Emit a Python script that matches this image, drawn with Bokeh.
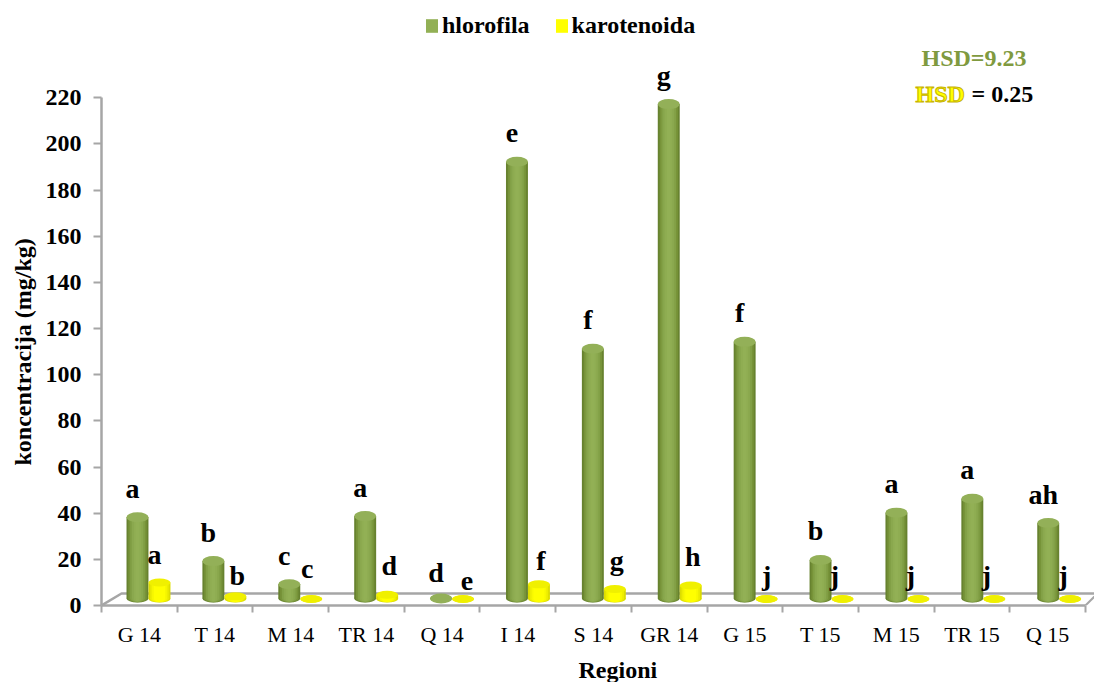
from bokeh.plotting import figure
from bokeh.embed import file_html
from bokeh.resources import INLINE
from bokeh.models import FixedTicker, Range1d, Label, Legend, LegendItem, ColumnDataSource, Title
from bokeh.core.properties import value

categories = ["G 14", "T 14", "M 14", "TR 14", "Q 14", "I 14", "S 14", "GR 14", "G 15", "T 15", "M 15", "TR 15", "Q 15"]
hlorofila = [38, 19, 9, 38.5, 1.5, 192, 111, 217, 114, 19.5, 40, 46, 35.5]
karotenoida = [9.3, 3.3, 2, 4, 1.5, 8.5, 6.5, 8, 2, 0.7, 0.7, 0.7, 0.7]
letters_h = ["a", "b", "c", "a", "d", "e", "f", "g", "f", "b", "a", "a", "ah"]
letters_k = ["a", "b", "c", "d", "e", "f", "g", "h", "j", "j", "j", "j", "j"]
y_ticks = list(range(0, 221, 20))

# label placement relative to the top of each yellow bar, in pixels
gap_k = [24, 17, 27, 25, 15, 20, 24, 25, 20, 23, 23, 23, 23]
shift_k = [-5, 2, -4, 2, 4, 2, 2, 2, 0, -8, -8, -8, -7]

FONT = "Liberation Serif"
DEPTH = 2.4        # floor depth offset of the pseudo-3D chart, in data units
PXY = 2.308        # pixels per data unit
PXX = 75.69
FRAME_H = 605
n = len(categories)

p = figure(width=1094, height=682, frame_width=993, frame_height=FRAME_H,
           output_backend="svg", toolbar_location=None,
           x_range=Range1d(0, 993 / PXX), y_range=Range1d(0, FRAME_H / PXY),
           min_border_left=101, min_border_right=0, min_border_top=0, min_border_bottom=77,
           outline_line_color=None, background_fill_color="white", border_fill_color="white")
p.grid.visible = False

AX = "#a6a6a6"
xa = p.xaxis[0]
xa.ticker = FixedTicker(ticks=[i + 0.5 for i in range(n)], minor_ticks=list(range(n + 1)))
xa.major_label_overrides = {i + 0.5: c for i, c in enumerate(categories)}
xa.major_tick_out = 0
xa.major_tick_in = 0
xa.minor_tick_out = 7
xa.minor_tick_in = 0
xa.minor_tick_line_color = AX
xa.minor_tick_line_width = 2
xa.axis_line_color = AX
xa.axis_line_width = 2.5
xa.bounds = (0, 13)
xa.major_label_text_font = FONT
xa.major_label_text_font_size = "22px"
xa.major_label_text_color = "black"
xa.major_label_standoff = 9

ya = p.yaxis[0]
ya.ticker = FixedTicker(ticks=y_ticks, minor_ticks=[])
ya.bounds = (0, 220)
ya.major_tick_out = 8
ya.major_tick_in = 0
ya.major_tick_line_color = AX
ya.major_tick_line_width = 2
ya.axis_line_color = AX
ya.axis_line_width = 2.5
ya.major_label_text_font = FONT
ya.major_label_text_font_style = "bold"
ya.major_label_text_font_size = "24px"
ya.major_label_text_color = "black"
ya.major_label_standoff = 12

p.add_layout(Title(text="koncentracija (mg/kg)", align="left", offset=140, standoff=14, text_font=FONT,
                   text_font_style="bold", text_font_size="24px", text_color="black"), "left")
p.add_layout(Title(text="Regioni", align="left", offset=477, standoff=11, text_font=FONT,
                   text_font_style="bold", text_font_size="24px", text_color="black"), "below")

# pseudo-3D floor
floor_back = 12 / PXY
p.line([0, 20 / PXX, 993 / PXX], [0, floor_back, floor_back], line_color=AX, line_width=2.5)
p.line([13, 13 + 9 / PXX], [0, 9 / PXY], line_color=AX, line_width=2)

BAR_W = 0.29
SLOPE = 1.0027
GREEN = ["#67822f", "#779339", "#82a046", "#8aa84e", "#8fad52", "#92b055"]
YELLOW = ["#dcdc00", "#eded00", "#f8f800", "#ffff00", "#ffff00", "#ffff00"]


def cylinders(vals, offset, ramp, cap, base_px, cap_px):
    xs = [i * SLOPE + offset for i in range(n)]
    base_c = (3 + base_px / 2) / PXY  # centre of the base ellipse above the axis
    tops = [max(v + DEPTH - cap_px / 2 / PXY, base_c) for v in vals]
    main = None
    for k, col in enumerate(ramp):
        w = BAR_W * (1 - k / len(ramp))
        p.ellipse(xs, [base_c] * n, width=w, height=base_px * (1 - k / len(ramp) * 0.35),
                  height_units="screen", fill_color=col, line_color=None)
        main = p.vbar(xs, width=w, bottom=[base_c] * n, top=tops, fill_color=col, line_color=None)
    p.ellipse(xs, tops, width=BAR_W, height=cap_px, height_units="screen",
              fill_color=cap, line_color=None)
    return main, xs


rg, xg = cylinders(hlorofila, 0.4755, GREEN, "#93b058", 8, 10)
ry, xy = cylinders(karotenoida, 0.766, YELLOW, "#f0f000", 7, 8)

src_h = ColumnDataSource(dict(x=[x - 5 / PXX for x in xg], y=[v + DEPTH for v in hlorofila], t=letters_h))
p.text("x", "y", text="t", source=src_h, y_offset=-24, text_align="center", text_baseline="alphabetic",
       text_font=value(FONT), text_font_style="bold", text_font_size="28px", text_color="black")
src_k = ColumnDataSource(dict(x=[x + s / PXX for x, s in zip(xy, shift_k)],
                              y=[v + DEPTH for v in karotenoida], t=letters_k,
                              off=[-g for g in gap_k]))
p.text("x", "y", text="t", source=src_k, y_offset="off", text_align="center", text_baseline="alphabetic",
       text_font=value(FONT), text_font_style="bold", text_font_size="28px", text_color="black")

legend = Legend(items=[LegendItem(label="hlorofila", renderers=[rg]),
                       LegendItem(label="karotenoida", renderers=[ry])],
                orientation="horizontal", location=(323, 566), border_line_color=None,
                background_fill_alpha=0, glyph_width=15, glyph_height=17, label_text_font=FONT,
                label_text_font_style="bold", label_text_font_size="24px", label_text_color="black",
                spacing=24, margin=0, padding=0, label_standoff=3)
p.add_layout(legend)


def note(txt, x, y, color, outline=None):
    lab = Label(x=x, y=y, x_units="screen", y_units="screen", text=txt, text_color=color,
                text_font=FONT, text_font_style="bold", text_font_size="24px",
                text_baseline="middle", text_align="left")
    if outline:
        lab.text_outline_color = outline
    p.add_layout(lab)


note("HSD=9.23", 820, 548, "#7f9a3f")
note("HSD", 814, 512, "#ffff00", "#c8b400")
note("= 0.25", 870, 512, "black")

open("out.html", "w").write(file_html(p, INLINE))
